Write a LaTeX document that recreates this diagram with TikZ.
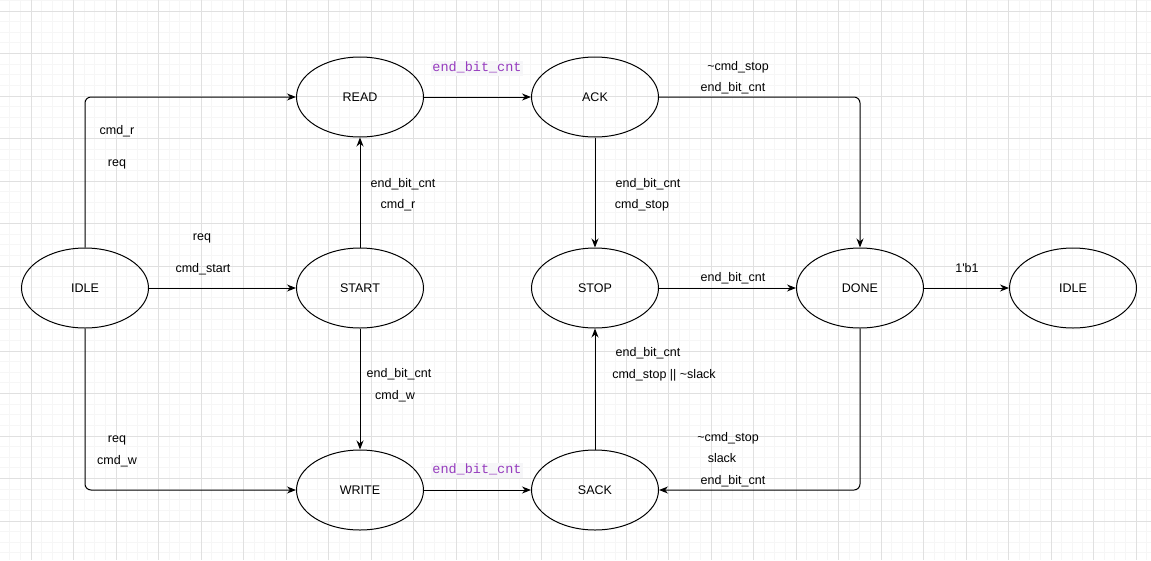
\documentclass[tikz,border=0pt]{standalone}
\usepackage{fontspec}
\setmainfont{Liberation Sans}
\setmonofont{Liberation Mono}
\usetikzlibrary{shapes.geometric,arrows.meta}
\definecolor{minorgrid}{RGB}{246,246,246}
\definecolor{majorgrid}{RGB}{224,224,224}
\definecolor{sigpurple}{RGB}{150,60,190}
\definecolor{codebg}{RGB}{246,246,248}

\begin{document}
\begin{tikzpicture}[x=1pt,y=-1pt,>={Stealth[length=9pt,width=7pt]},
  state/.style={ellipse,draw,line width=1pt,minimum width=127pt,minimum height=80pt,
    inner sep=0pt,font=\fontsize{12.5}{15}\selectfont},
  edge/.style={->,line width=1pt,rounded corners=6pt},
  lbl/.style={inner sep=0pt,text height=9pt,text depth=3pt,font=\fontsize{12.5}{15}\selectfont},
  code/.style={inner sep=1.5pt,text height=9pt,text depth=3pt,fill=codebg,text=sigpurple,
    font=\ttfamily\fontsize{13.5}{15}\selectfont}]
  \useasboundingbox (0,0) rectangle (1151,560);
  % grid
  \foreach \k in {-2,...,105}
    \draw[minorgrid,line width=0.8pt] ({31+\k*10.625},0) -- ({31+\k*10.625},560);
  \foreach \k in {-1,...,51}
    \draw[minorgrid,line width=0.8pt] (0,{11+\k*10.625}) -- (1151,{11+\k*10.625});
  \foreach \k in {0,...,26}
    \draw[majorgrid,line width=0.8pt] ({31+\k*42.5},0) -- ({31+\k*42.5},560);
  \foreach \k in {0,...,12}
    \draw[majorgrid,line width=0.8pt] (0,{11+\k*42.5}) -- (1151,{11+\k*42.5});

  % states
  \node[state] (idle)  at (85,288)   {IDLE};
  \node[state] (read)  at (360,97)   {READ};
  \node[state] (start) at (360,288)  {START};
  \node[state] (write) at (360,490)  {WRITE};
  \node[state] (ack)   at (595,97)   {ACK};
  \node[state] (stop)  at (595,288)  {STOP};
  \node[state] (sack)  at (595,490)  {SACK};
  \node[state] (done)  at (860,288)  {DONE};
  \node[state] (idleb) at (1073,288) {IDLE};

  % transitions
  \draw[edge] (idle.north) |- (read.west);
  \draw[edge] (idle.east) -- (start.west);
  \draw[edge] (idle.south) |- (write.west);
  \draw[edge] (start.north) -- (read.south);
  \draw[edge] (start.south) -- (write.north);
  \draw[edge] (read.east) -- (ack.west);
  \draw[edge] (write.east) -- (sack.west);
  \draw[edge] (ack.east) -| (done.north);
  \draw[edge] (ack.south) -- (stop.north);
  \draw[edge] (sack.north) -- (stop.south);
  \draw[edge] (stop.east) -- (done.west);
  \draw[edge] (done.south) |- (sack.east);
  \draw[edge] (done.east) -- (idleb.west);

  % conditions
  \node[lbl] (c1a) at (117,131) {cmd\_r};
  \node[lbl] (c1b) at (117,163) {req};
  \node[lbl] (c2a) at (202,237) {req};
  \node[lbl] (c2b) at (203,269) {cmd\_start};
  \node[lbl] (c3a) at (117,439) {req};
  \node[lbl] (c3b) at (117,461) {cmd\_w};
  \node[lbl] (c4a) at (403,184) {end\_bit\_cnt};
  \node[lbl] (c4b) at (398,205) {cmd\_r};
  \node[lbl] (c5a) at (399,374) {end\_bit\_cnt};
  \node[lbl] (c5b) at (395,396) {cmd\_w};
  \node[code] (c6) at (477,68)  {end\_bit\_cnt};
  \node[code] (c7) at (477,470) {end\_bit\_cnt};
  \node[lbl] (c8a) at (738,67) {\textasciitilde cmd\_stop};
  \node[lbl] (c8b) at (733,88) {end\_bit\_cnt};
  \node[lbl] (c9a) at (648,184) {end\_bit\_cnt};
  \node[lbl] (c9b) at (642,205) {cmd\_stop};
  \node[lbl] (c10a) at (648,353) {end\_bit\_cnt};
  \node[lbl] (c10b) at (664,375) {cmd\_stop || \textasciitilde slack};
  \node[lbl] (c11) at (733,278) {end\_bit\_cnt};
  \node[lbl] (c12a) at (728,438) {\textasciitilde cmd\_stop};
  \node[lbl] (c12b) at (722,459) {slack};
  \node[lbl] (c12c) at (733,481) {end\_bit\_cnt};
  \node[lbl] (c13) at (967,269) {1\textquotesingle b1};
\end{tikzpicture}
\end{document}
